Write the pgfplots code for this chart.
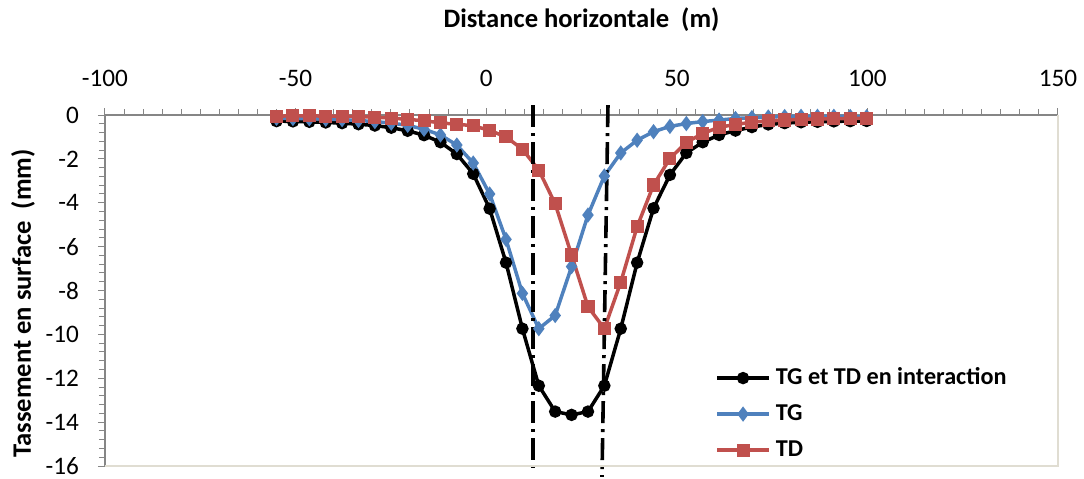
\documentclass[border=0pt]{standalone}
\usepackage{pgfplots}
\pgfplotsset{compat=1.18}
\usepackage{fontspec}
\setmainfont{Carlito}
\definecolor{tgblue}{RGB}{79,129,189}
\definecolor{tdred}{RGB}{192,80,77}
\definecolor{axgray}{RGB}{134,134,134}
\definecolor{framec}{RGB}{224,221,210}
\begin{document}
\begin{tikzpicture}
\useasboundingbox (-52.5pt,-6pt) rectangle (489.5pt,233pt);
\begin{axis}[
  at={(0,0)}, anchor=south west,
  scale only axis, width=476.5pt, height=175.5pt,
  xmin=-100, xmax=150, ymin=-16, ymax=0,
  axis x line=top, axis y line=left,
  axis line style={-, draw=axgray, line width=0.6pt},
  xtick={-100,-50,...,150}, ytick={-16,-14,...,0},
  minor x tick num=9, minor y tick num=4,
  tick align=outside,
  major tick length=3.5pt, minor tick length=3pt,
  every tick/.style={axgray, line width=0.5pt},
  /pgf/number format/assume math mode=true,
  ticklabel style={font=\fontsize{12.6}{15}\selectfont},
  xticklabel style={yshift=7pt},
  yticklabel style={xshift=-6pt},
  xlabel={Distance horizontale\ \ (m)},
  xlabel style={at={(axis description cs:0.5,1)}, anchor=center, yshift=47.5pt, font=\bfseries\fontsize{13.3}{16}\selectfont},
  ylabel={Tassement en surface\ \ (mm)},
  ylabel style={at={(axis description cs:-0.086,0.463)}, anchor=center, font=\bfseries\fontsize{13.3}{16}\selectfont},
  clip=false,
  legend cell align=left,
  legend style={draw=none, fill=none, at={(rel axis cs:0.64,0.2915)}, anchor=north west, inner sep=0pt,
    font=\bfseries\fontsize{12.1}{14}\selectfont, row sep=4pt,
    nodes={inner ysep=1pt, inner xsep=2.5pt, text height=9pt, text depth=3pt}},
  legend image code/.code={\draw[mark repeat=2,mark phase=2] plot coordinates {(0pt,0pt) (13pt,0pt) (26pt,0pt)};},
]
\addplot[black, line width=1.75pt, mark=*, mark size=2.2pt, mark options={solid}] coordinates {
(-55,-0.28) (-50.7,-0.29) (-46.4,-0.31) (-42.1,-0.34) (-37.8,-0.37) (-33.5,-0.42) (-29.2,-0.48) (-24.9,-0.58) (-20.6,-0.72) (-16.3,-0.92) (-12.0,-1.24) (-7.7,-1.78) (-3.4,-2.68) (0.9,-4.27) (5.2,-6.73) (9.5,-9.74) (13.8,-12.34) (18.1,-13.52) (22.4,-13.67) (26.7,-13.52) (31.0,-12.34) (35.3,-9.74) (39.6,-6.73) (43.9,-4.25) (48.2,-2.73) (52.5,-1.73) (56.8,-1.24) (61.1,-0.91) (65.4,-0.71) (69.7,-0.55) (74.0,-0.43) (78.3,-0.37) (82.6,-0.33) (86.9,-0.31) (91.2,-0.29) (95.5,-0.28) (99.8,-0.27)
};
\addlegendentry{TG et TD en interaction}
\addplot[tgblue, line width=1.75pt, mark=diamond*, mark size=2.4pt, mark options={solid}] coordinates {
(-55,-0.15) (-50.7,-0.16) (-46.4,-0.17) (-42.1,-0.19) (-37.8,-0.21) (-33.5,-0.25) (-29.2,-0.30) (-24.9,-0.37) (-20.6,-0.47) (-16.3,-0.65) (-12.0,-0.91) (-7.7,-1.37) (-3.4,-2.19) (0.9,-3.60) (5.2,-5.67) (9.5,-8.13) (13.8,-9.74) (18.1,-9.14) (22.4,-6.91) (26.7,-4.56) (31.0,-2.78) (35.3,-1.73) (39.6,-1.15) (43.9,-0.76) (48.2,-0.52) (52.5,-0.39) (56.8,-0.30) (61.1,-0.23) (65.4,-0.16) (69.7,-0.12) (74.0,-0.09) (78.3,-0.07) (82.6,-0.06) (86.9,-0.06) (91.2,-0.06) (95.5,-0.07) (99.8,-0.08)
};
\addlegendentry{TG}
\addplot[tdred, line width=1.75pt, mark=square*, mark size=2.4pt, mark options={solid}] coordinates {
(-55,-0.05) (-50.7,-0.04) (-46.4,-0.04) (-42.1,-0.05) (-37.8,-0.05) (-33.5,-0.07) (-29.2,-0.10) (-24.9,-0.14) (-20.6,-0.20) (-16.3,-0.26) (-12.0,-0.36) (-7.7,-0.42) (-3.4,-0.49) (0.9,-0.70) (5.2,-1.00) (9.5,-1.56) (13.8,-2.51) (18.1,-4.05) (22.4,-6.38) (26.7,-8.74) (31.0,-9.74) (35.3,-7.62) (39.6,-5.09) (43.9,-3.19) (48.2,-1.98) (52.5,-1.25) (56.8,-0.84) (61.1,-0.56) (65.4,-0.43) (69.7,-0.33) (74.0,-0.27) (78.3,-0.23) (82.6,-0.20) (86.9,-0.18) (91.2,-0.17) (95.5,-0.16) (99.8,-0.15)
};
\addlegendentry{TD}
\addplot[black, line width=1.8pt, dash pattern=on 11pt off 3pt on 1.5pt off 3pt, forget plot] coordinates {(12.35,0.45) (12.35,-16.1)};
\addplot[black, line width=1.8pt, dash pattern=on 11pt off 3pt on 1.5pt off 3pt, forget plot] coordinates {(31.95,0.45) (30.38,-16.5)};
\draw[framec, line width=0.8pt] (rel axis cs:0,0) -- (rel axis cs:1,0) -- (rel axis cs:1,1);
\end{axis}
\end{tikzpicture}
\end{document}
